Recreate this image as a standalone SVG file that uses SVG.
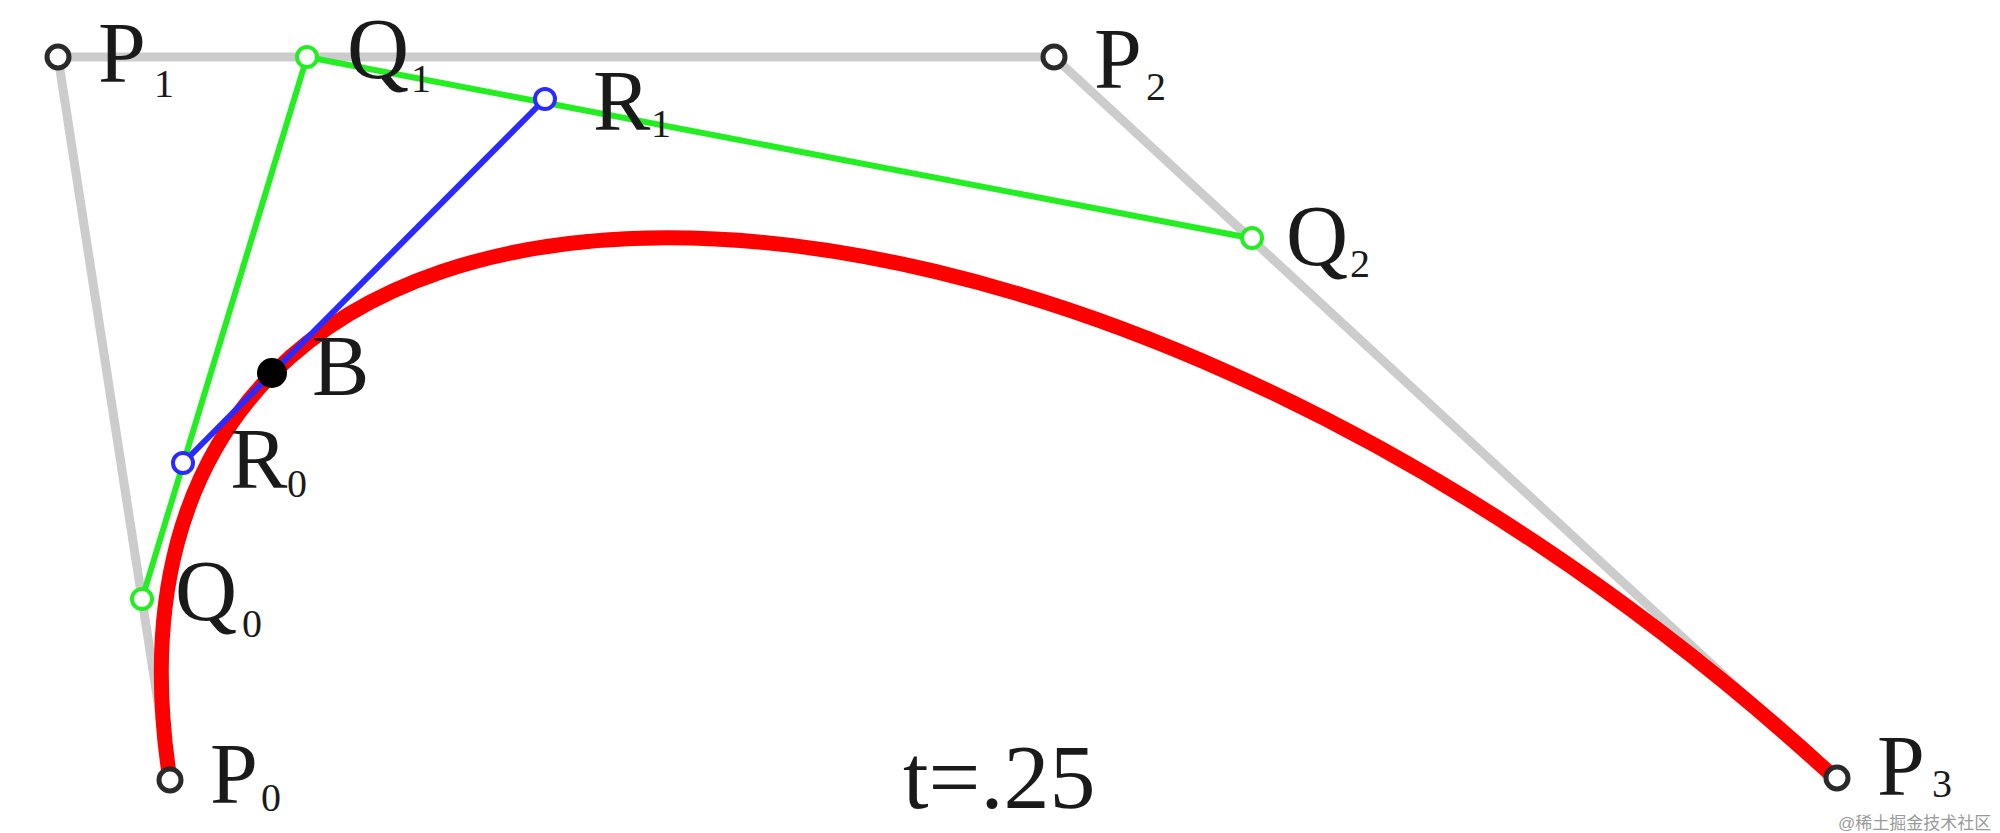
<svg xmlns="http://www.w3.org/2000/svg" width="2000" height="833" viewBox="0 0 2000 833">
  <style>
    .lbl { font-family: "Liberation Serif", "Times New Roman", serif; font-size: 86px; fill: #1a1a1a; }
    .sub { font-family: "Liberation Serif", "Times New Roman", serif; font-size: 40px; fill: #1a1a1a; }
    .pt { fill: #ffffff; stroke: #2a2a2a; stroke-width: 5; }
    .qpt { fill: #ffffff; stroke: #22ee22; stroke-width: 4; }
    .rpt { fill: #ffffff; stroke: #2a2aff; stroke-width: 4; }
    .gray { fill: none; stroke: #cccccc; stroke-width: 9; stroke-linejoin: round; }
    .green { fill: none; stroke: #22ee22; stroke-width: 6; stroke-linejoin: round; }
    .blue { fill: none; stroke: #2a2aff; stroke-width: 6; }
    .curve { fill: none; stroke: #ff0000; stroke-width: 15; stroke-linecap: butt; }
    .wm { font-family: "Liberation Sans", "Noto Sans CJK SC", sans-serif; font-size: 17px; fill: #9a9a9a; }
  </style>
  <rect width="2000" height="833" fill="#ffffff"/>

  <g id="connectors">
    <polyline class="gray" points="170,780 58,57 1054,57 1837,780"/>
    <path class="curve" d="M170,780 C58,57 1054,57 1837,780"/>
    <polyline class="green" points="142,599 307,57 1250,238"/>
    <line class="blue" x1="183" y1="463" x2="543" y2="101"/>
  </g>

  <g id="P1">
    <circle class="pt" cx="58" cy="57" r="11"/>
    <text class="lbl" x="98" y="82">P</text>
    <text class="sub" x="154" y="97">1</text>
  </g>
  <g id="P2">
    <circle class="pt" cx="1054" cy="57" r="11"/>
    <text class="lbl" x="1094" y="88">P</text>
    <text class="sub" x="1146" y="100">2</text>
  </g>
  <g id="P0">
    <circle class="pt" cx="170" cy="780" r="11"/>
    <text class="lbl" x="210" y="803">P</text>
    <text class="sub" x="261" y="811">0</text>
  </g>
  <g id="P3">
    <circle class="pt" cx="1837" cy="778" r="11"/>
    <text class="lbl" x="1877" y="795">P</text>
    <text class="sub" x="1932" y="797">3</text>
  </g>
  <g id="Q0">
    <circle class="qpt" cx="142" cy="599" r="10"/>
    <text class="lbl" x="175" y="620">Q</text>
    <text class="sub" x="242" y="637">0</text>
  </g>
  <g id="Q1">
    <circle class="qpt" cx="307" cy="57" r="10"/>
    <text class="lbl" x="347" y="78">Q</text>
    <text class="sub" x="411" y="92">1</text>
  </g>
  <g id="Q2">
    <circle class="qpt" cx="1252" cy="238" r="10"/>
    <text class="lbl" x="1286" y="265">Q</text>
    <text class="sub" x="1350" y="277">2</text>
  </g>
  <g id="R0">
    <circle class="rpt" cx="183" cy="463" r="10"/>
    <text class="lbl" x="230" y="488">R</text>
    <text class="sub" x="287" y="497">0</text>
  </g>
  <g id="R1">
    <circle class="rpt" cx="545" cy="99" r="10"/>
    <text class="lbl" x="593" y="130">R</text>
    <text class="sub" x="651" y="137">1</text>
  </g>
  <g id="B">
    <circle cx="272" cy="373" r="15" fill="#000000"/>
    <text class="lbl" x="312" y="395">B</text>
  </g>

  <text class="lbl" x="903" y="808" style="font-size:92px">t=.25</text>
  <text class="wm" x="1838" y="829">@稀土掘金技术社区</text>
</svg>
